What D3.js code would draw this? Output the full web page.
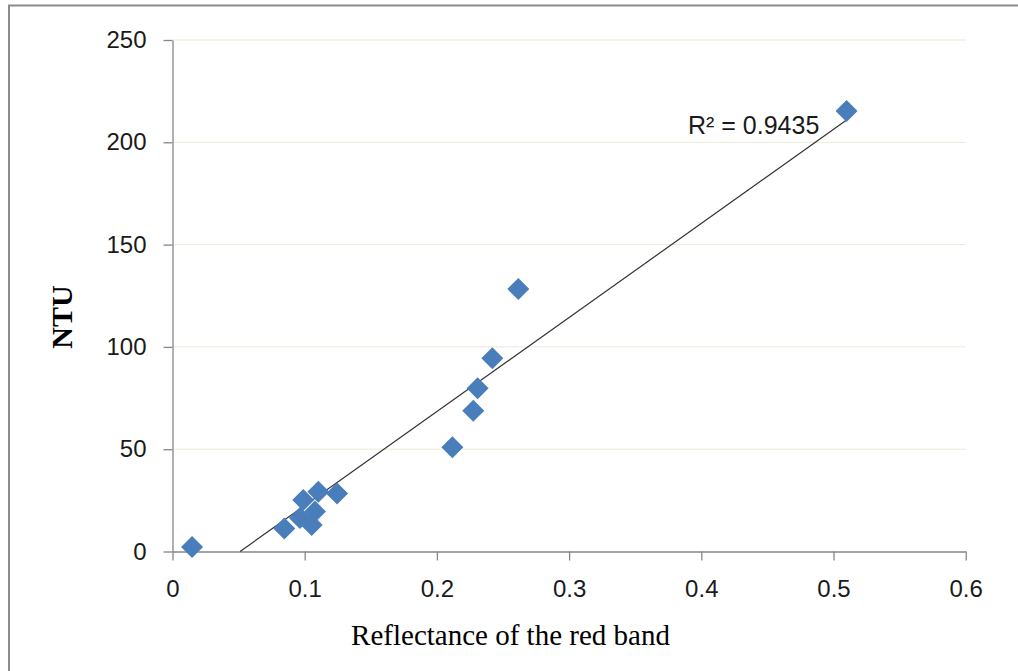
<!DOCTYPE html>
<html><head><meta charset="utf-8">
<script src="https://cdn.jsdelivr.net/npm/d3@7"></script>
<style>body{margin:0;background:#fff}</style>
</head><body>
<script>
const reflectance = [0.0148, 0.0846, 0.0964, 0.0989, 0.1053, 0.1078, 0.1103, 0.1245, 0.2117, 0.2275, 0.2308, 0.2419, 0.2616, 0.5099];
const ntu = [2.2, 11.3, 16.4, 25.2, 13.0, 19.5, 29.2, 28.4, 50.9, 68.8, 79.8, 94.4, 128.3, 215.3];
const xTicks = [0, 0.1, 0.2, 0.3, 0.4, 0.5, 0.6];
const yTicks = [0, 50, 100, 150, 200, 250];
const trendSlope = 459.6;      // read from the drawn trendline
const trendIntercept = -23.5;
const r2Label = "R² = 0.9435";

const W = 1018, H = 671;
const svg = d3.select("body").append("svg").attr("width", W).attr("height", H);
const x = d3.scaleLinear().domain([0, 0.6]).range([172.5, 965.7]);
const y = d3.scaleLinear().domain([0, 250]).range([551.5, 40]);

// outer border
svg.append("rect").attr("x", 9).attr("y", 5.5).attr("width", W + 20).attr("height", H + 20)
  .attr("fill", "none").attr("stroke", "#8c8c8c").attr("stroke-width", 2);

// gridlines
svg.append("g").selectAll("line").data(yTicks.filter(d => d > 0)).join("line")
  .attr("x1", x(0)).attr("x2", x(0.6)).attr("y1", d => y(d)).attr("y2", d => y(d))
  .attr("stroke", "#ebe9d8").attr("stroke-width", 1);

const fontSans = "'Liberation Sans', Arial, sans-serif";
// y axis
const yAxis = svg.append("g").attr("transform", `translate(${x(0)},0)`)
  .call(d3.axisLeft(y).tickValues(yTicks).tickSize(9).tickPadding(17).tickSizeOuter(0));
// x axis
const xAxis = svg.append("g").attr("transform", `translate(0,${y(0)})`)
  .call(d3.axisBottom(x).tickValues(xTicks).tickSize(9).tickPadding(19).tickSizeOuter(0)
    .tickFormat(d => d === 0 ? "0" : d3.format(".1f")(d)));
[yAxis, xAxis].forEach(a => {
  a.selectAll("path,line").attr("stroke", "#868686").attr("stroke-width", 1.3);
  a.selectAll("text").attr("fill", "#1a1a1a").style("font-family", fontSans).style("font-size", "24px");
});

// linear trendline, clipped at y = 0, up to the largest x
const x0 = Math.max(d3.min(reflectance), -trendIntercept / trendSlope), x1 = d3.max(reflectance);
svg.append("line")
  .attr("x1", x(x0)).attr("y1", y(trendSlope * x0 + trendIntercept))
  .attr("x2", x(x1)).attr("y2", y(trendSlope * x1 + trendIntercept))
  .attr("stroke", "#333").attr("stroke-width", 1.2);

// points
const s = 11;
svg.append("g").selectAll("path").data(reflectance.map((r, i) => [r, ntu[i]])).join("path")
  .attr("d", d => `M${x(d[0])},${y(d[1])-s}L${x(d[0])+s},${y(d[1])}L${x(d[0])},${y(d[1])+s}L${x(d[0])-s},${y(d[1])}Z`)
  .attr("fill", "#4a7ebb");

// R2 label
svg.append("text").attr("x", 688).attr("y", 134).text(r2Label)
  .style("font-family", fontSans).style("font-size", "25px").attr("fill", "#1a1a1a");

// axis titles
svg.append("text").attr("x", 510.5).attr("y", 645).attr("text-anchor", "middle")
  .text("Reflectance of the red band").style("font-family", "'Liberation Serif', 'Times New Roman', serif")
  .style("font-size", "29px").attr("fill", "#000");
svg.append("text").attr("transform", "translate(72,317) rotate(-90)").attr("text-anchor", "middle")
  .text("NTU").style("font-family", "'Liberation Serif', 'Times New Roman', serif")
  .style("font-size", "30px").style("font-weight", "bold").attr("fill", "#000");
</script>
</body></html>
